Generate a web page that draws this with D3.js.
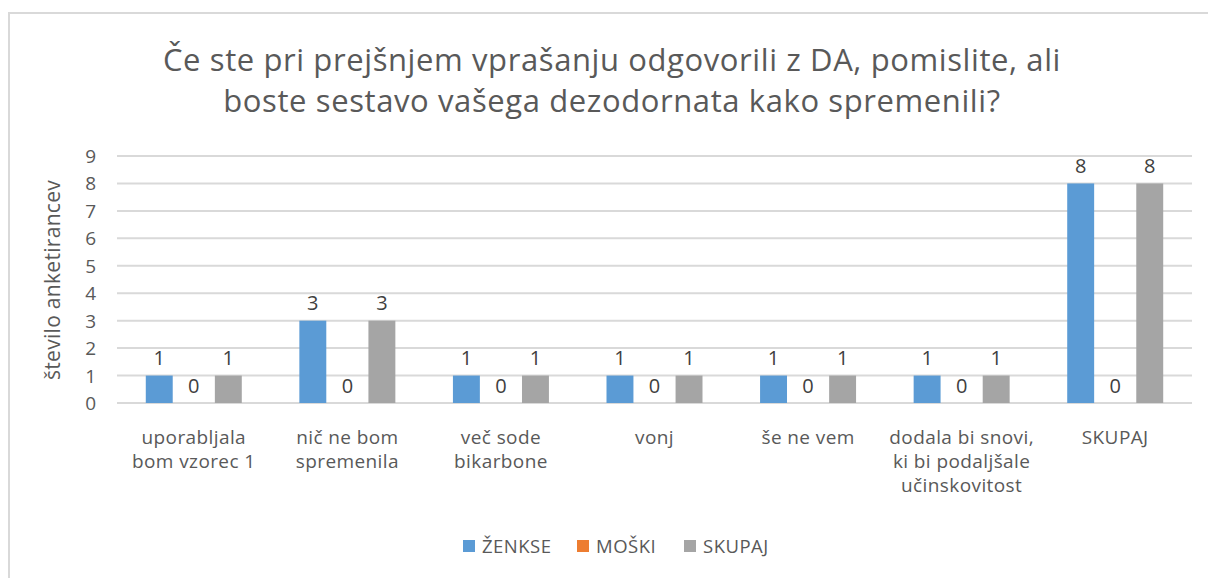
<!DOCTYPE html>
<html>
<head>
<meta charset="utf-8">
<script src="https://cdn.jsdelivr.net/npm/d3@7"></script>
<style>
  body { margin: 0; background: #fff; }
  text { font-family: "Open Sans", "Noto Sans", sans-serif; }
</style>
</head>
<body>
<svg width="1208" height="578"></svg>
<script>
'use strict'

var categories = [
  ['uporabljala', 'bom vzorec 1'],
  ['nič ne bom', 'spremenila'],
  ['več sode', 'bikarbone'],
  ['vonj'],
  ['še ne vem'],
  ['dodala bi snovi,', 'ki bi podaljšale', 'učinskovitost'],
  ['SKUPAJ']
]
var seriesNames = ['ŽENKSE', 'MOŠKI', 'SKUPAJ']
var zenske = [1, 3, 1, 1, 1, 1, 8]
var moski = [0, 0, 0, 0, 0, 0, 0]
var skupaj = [1, 3, 1, 1, 1, 1, 8]
var yTicks = [0, 1, 2, 3, 4, 5, 6, 7, 8, 9]
var title = ['Če ste pri prejšnjem vprašanju odgovorili z DA, pomislite, ali',
  'boste sestavo vašega dezodornata kako spremenili?']
var yTitle = 'število anketirancev'

var colours = ['#5B9BD5', '#ED7D31', '#A5A5A5']
var values = [zenske, moski, skupaj]

var svg = d3.select('svg')

// chart frame
svg.append('rect')
  .attr('x', 9).attr('y', 13)
  .attr('width', 1230).attr('height', 600)
  .attr('fill', '#fff')
  .attr('stroke', '#d9d9d9')
  .attr('stroke-width', 2)

var plot = { left: 117, right: 1192, top: 156, bottom: 403 }

var x = d3.scaleBand()
  .domain(d3.range(categories.length))
  .range([plot.left, plot.right])

var xInner = d3.scaleBand()
  .domain(d3.range(seriesNames.length))
  .range([x.bandwidth() / 2 - 48, x.bandwidth() / 2 + 48])
  .paddingInner(0.22)

var y = d3.scaleLinear()
  .domain([0, 9])
  .range([plot.bottom, plot.top])

// gridlines
svg.append('g')
  .selectAll('line')
  .data(yTicks)
  .enter().append('line')
  .attr('x1', plot.left).attr('x2', plot.right)
  .attr('y1', function(d) { return y(d) })
  .attr('y2', function(d) { return y(d) })
  .attr('stroke', '#d9d9d9')
  .attr('stroke-width', 2)

// y tick labels
svg.append('g')
  .selectAll('text')
  .data(yTicks)
  .enter().append('text')
  .attr('x', 96)
  .attr('y', function(d) { return y(d) + 7 })
  .attr('text-anchor', 'end')
  .attr('font-size', 19)
  .attr('fill', '#595959')
  .text(function(d) { return d })

// y axis title
svg.append('text')
  .attr('transform', 'translate(60,280) rotate(-90)')
  .attr('text-anchor', 'middle')
  .attr('font-size', 21)
  .attr('letter-spacing', 0.3)
  .attr('fill', '#595959')
  .text(yTitle)

// bars
var groups = svg.append('g')
  .selectAll('g')
  .data(categories)
  .enter().append('g')
  .attr('transform', function(d, i) { return 'translate(' + x(i) + ',0)' })

groups.each(function(c, i) {
  var g = d3.select(this)
  values.forEach(function(vals, s) {
    var v = vals[i]
    g.append('rect')
      .attr('x', xInner(s))
      .attr('y', y(v))
      .attr('width', xInner.bandwidth())
      .attr('height', y(0) - y(v))
      .attr('fill', colours[s])
    g.append('text')
      .attr('x', xInner(s) + xInner.bandwidth() / 2)
      .attr('y', y(v) - 18)
      .attr('text-anchor', 'middle')
      .attr('dominant-baseline', 'central')
      .attr('font-size', 20)
      .attr('fill', '#404040')
      .text(v)
  })
  // category label
  var t = g.append('text')
    .attr('text-anchor', 'middle')
    .attr('font-size', 19)
    .attr('letter-spacing', 0.4)
    .attr('fill', '#595959')
  c.forEach(function(line, k) {
    t.append('tspan')
      .attr('x', x.bandwidth() / 2)
      .attr('y', 444 + k * 24)
      .text(line)
  })
})

// title
var tt = svg.append('text')
  .attr('text-anchor', 'middle')
  .attr('font-size', 31)
  .attr('letter-spacing', 0.6)
  .attr('fill', '#595959')
title.forEach(function(line, k) {
  tt.append('tspan')
    .attr('x', 612)
    .attr('y', 71 + k * 41)
    .text(line)
})

// legend
var legendX = [463, 577, 684]
var legend = svg.append('g')
  .selectAll('g')
  .data(seriesNames)
  .enter().append('g')
  .attr('transform', function(d, i) { return 'translate(' + legendX[i] + ',540)' })

legend.append('rect')
  .attr('width', 12).attr('height', 12)
  .attr('fill', function(d, i) { return colours[i] })

legend.append('text')
  .attr('x', 19)
  .attr('y', 13)
  .attr('font-size', 18.5)
  .attr('letter-spacing', 0.5)
  .attr('fill', '#595959')
  .text(function(d) { return d })
</script>
</body>
</html>
